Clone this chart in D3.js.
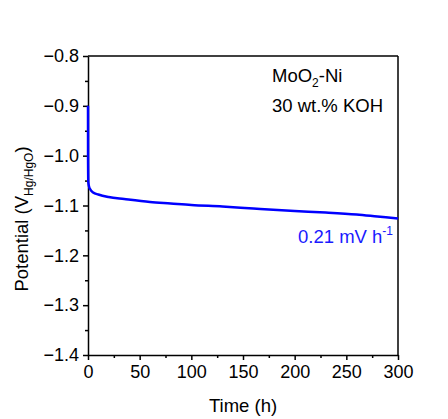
<!doctype html>
<html lang="en">
  <head>
    <meta charset="UTF-8" />
    <title>MoO2-Ni stability</title>
    <script src="https://d3js.org/d3.v7.min.js"></script>
    <style>
      body {
        margin: 0;
        background: #fff;
        font-family: 'Liberation Sans', Arial, sans-serif;
      }
      .axis path,
      .axis line {
        stroke: #000;
        stroke-width: 1.5;
      }
      .axis text {
        font-size: 18px;
        fill: #000;
        font-family: 'Liberation Sans', Arial, sans-serif;
      }
      .label {
        font-size: 18.5px;
        fill: #000;
      }
    </style>
  </head>
  <body>
    <svg id="chart"></svg>
    <script>
      // Chronopotentiometry trace
      const timeH = [0, 0.05, 0.3, 1, 2, 5, 10, 20, 35, 60, 80, 100, 130, 160, 200, 230, 260, 280, 300]
      const potential = [
        -0.9, -1.0, -1.053, -1.062, -1.067, -1.074, -1.078, -1.083, -1.087, -1.093, -1.096, -1.099,
        -1.102, -1.106, -1.111, -1.114, -1.118, -1.122, -1.126,
      ]
      const xTicks = [0, 50, 100, 150, 200, 250, 300]
      const yTicks = [-0.8, -0.9, -1.0, -1.1, -1.2, -1.3, -1.4]

      const W = 448
      const H = 419
      const margin = { top: 56, right: 50, bottom: 64, left: 88 }
      const width = W - margin.left - margin.right
      const height = H - margin.top - margin.bottom

      const svg = d3.select('#chart').attr('width', W).attr('height', H)
      const g = svg.append('g').attr('transform', `translate(${margin.left},${margin.top})`)

      const x = d3.scaleLinear().domain([0, 300]).range([0, width])
      const y = d3.scaleLinear().domain([-1.4, -0.8]).range([height, 0])

      // minor ticks
      g.append('g')
        .attr('class', 'axis')
        .attr('transform', `translate(0,${height})`)
        .call(d3.axisBottom(x).tickValues(d3.range(25, 300, 50)).tickSize(3).tickFormat(''))
        .select('.domain')
        .remove()
      g.append('g')
        .attr('class', 'axis')
        .call(d3.axisLeft(y).tickValues(d3.range(-1.35, -0.8, 0.1)).tickSize(3).tickFormat(''))
        .select('.domain')
        .remove()

      // major axes
      g.append('g')
        .attr('class', 'axis')
        .attr('transform', `translate(0,${height})`)
        .call(d3.axisBottom(x).tickValues(xTicks).tickSize(5).tickSizeOuter(0).tickPadding(5))
      g.append('g')
        .attr('class', 'axis')
        .call(
          d3
            .axisLeft(y)
            .tickValues(yTicks)
            .tickSize(5)
            .tickSizeOuter(0)
            .tickPadding(4)
            .tickFormat(d3.format('.1f'))
        )

      // frame top and right
      g.append('line').attr('x1', 0).attr('x2', width).attr('y1', 0).attr('y2', 0)
        .attr('stroke', '#000').attr('stroke-width', 1.5)
      g.append('line').attr('x1', width).attr('x2', width).attr('y1', 0).attr('y2', height)
        .attr('stroke', '#000').attr('stroke-width', 1.5)

      // trace
      const pts = timeH.map((t, i) => [t, potential[i]])
      g.append('path')
        .datum(pts)
        .attr('fill', 'none')
        .attr('stroke', '#0000ff')
        .attr('stroke-width', 2.5)
        .attr('d', d3.line().x((d) => x(d[0])).y((d) => y(d[1])).curve(d3.curveMonotoneX))

      // annotations
      const t1 = g.append('text').attr('class', 'label').attr('x', 184).attr('y', 26)
      t1.append('tspan').text('MoO')
      t1.append('tspan').attr('font-size', 12).attr('dy', 5).text('2')
      t1.append('tspan').attr('dy', -5).text('-Ni')
      g.append('text').attr('class', 'label').attr('x', 184).attr('y', 56).text('30 wt.% KOH')

      const t2 = g
        .append('text')
        .attr('class', 'label')
        .attr('text-anchor', 'end')
        .attr('x', width - 5)
        .attr('y', 187)
        .style('fill', '#1a1aff')
      t2.append('tspan').text('0.21 mV h')
      t2.append('tspan').attr('font-size', 12).attr('dy', -8).text('-1')

      // axis titles
      svg.append('text')
        .attr('class', 'label')
        .attr('text-anchor', 'middle')
        .attr('x', margin.left + width / 2)
        .attr('y', 412)
        .text('Time (h)')

      const yl = svg.append('text')
        .attr('class', 'label')
        .attr('text-anchor', 'middle')
        .attr('transform', 'translate(28,219) rotate(-90)')
      yl.append('tspan').text('Potential (V')
      yl.append('tspan').attr('font-size', 12).attr('dy', 5).text('Hg/HgO')
      yl.append('tspan').attr('dy', -5).text(')')
    </script>
  </body>
</html>
